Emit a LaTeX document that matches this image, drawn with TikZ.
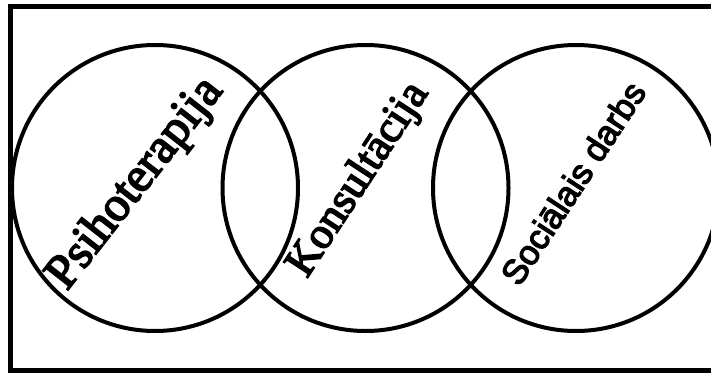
\documentclass[tikz,border=0pt]{standalone}
\usepackage{fontspec}
\setmainfont{Liberation Serif}
\newfontfamily\serifheavy[FakeBold=3.5]{Liberation Serif}
\newfontfamily\arialheavy[FakeBold=3.5]{Liberation Sans}
\begin{document}
\begin{tikzpicture}[x=1pt,y=-1pt,
  ring/.style={draw=black,line width=4pt,circle,inner sep=0pt,minimum size=286pt},
  frame/.style={draw=black,line width=5pt},
  lbl/.style={inner sep=0pt,text=black}]
\useasboundingbox (0,0) rectangle (711,372);
\clip (0,0) rectangle (711,372);
\fill[white] (0,0) rectangle (711,372);
\draw[frame] (10.5,6.5) rectangle (720,370.5);
\node[ring] (c1) at (155,188) {};
\node[ring] (c2) at (365.5,188) {};
\node[ring] (c3) at (576,188) {};
\node[lbl,rotate=52,font=\serifheavy\fontsize{48.7}{50}\selectfont] (t1) at (136,184) {Psihoterapija};
\node[lbl,rotate=56.8,font=\serifheavy\fontsize{44}{46}\selectfont] (t2) at (359,180) {Konsultācija};
\node[lbl,rotate=56.8,font=\arialheavy\fontsize{34.5}{36}\selectfont] (t3) at (573,183) {Sociālais darbs};
\end{tikzpicture}
\end{document}
